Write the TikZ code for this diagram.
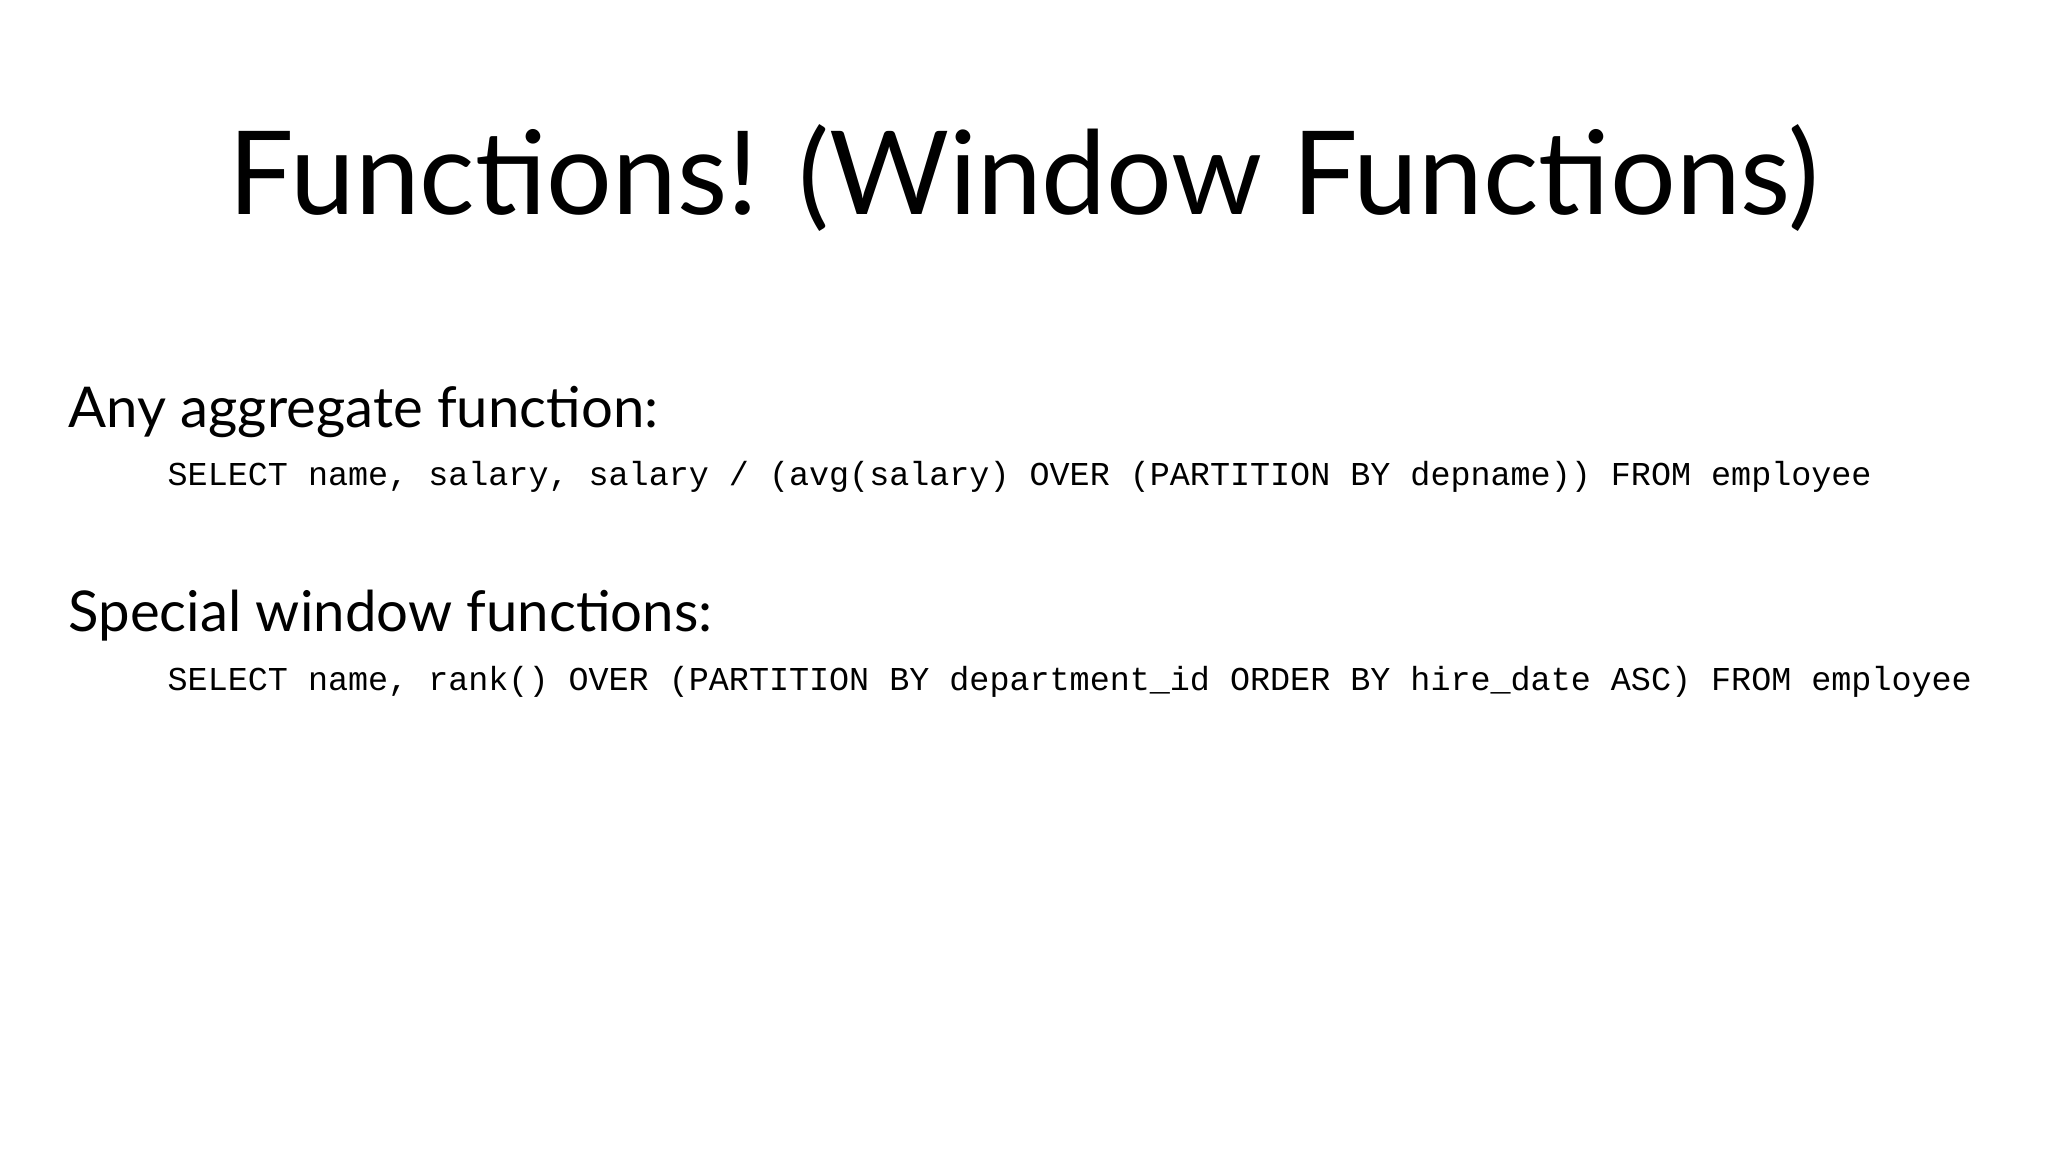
\documentclass[tikz,border=0pt]{standalone}
\usepackage{fontspec}
\setmainfont{Lato}
\setmonofont{Liberation Mono}
\begin{document}
\begin{tikzpicture}[x=0.01cm,y=-0.01cm,
  head/.style={anchor=base west,inner sep=0,font=\fontsize{16pt}{19pt}\selectfont},
  code/.style={anchor=base west,inner sep=0,font=\ttfamily\fontsize{9.5pt}{11pt}\selectfont}]
\useasboundingbox[fill=white] (0,0) rectangle (2048,1152);
\node[anchor=base,inner sep=0,font=\fontsize{33pt}{40pt}\selectfont] (title) at (1024,215) {Functions! (Window Functions)};
\node[head] (h1) at (68,428) {Any aggregate function:};
\node[code] (c1) at (167,486) {SELECT name, salary, salary / (avg(salary) OVER (PARTITION BY depname)) FROM employee};
\node[head] (h2) at (68,631) {Special window functions:};
\node[code] (c2) at (167,690) {SELECT name, rank() OVER (PARTITION BY department\_id ORDER BY hire\_date ASC) FROM employee};
\end{tikzpicture}
\end{document}
